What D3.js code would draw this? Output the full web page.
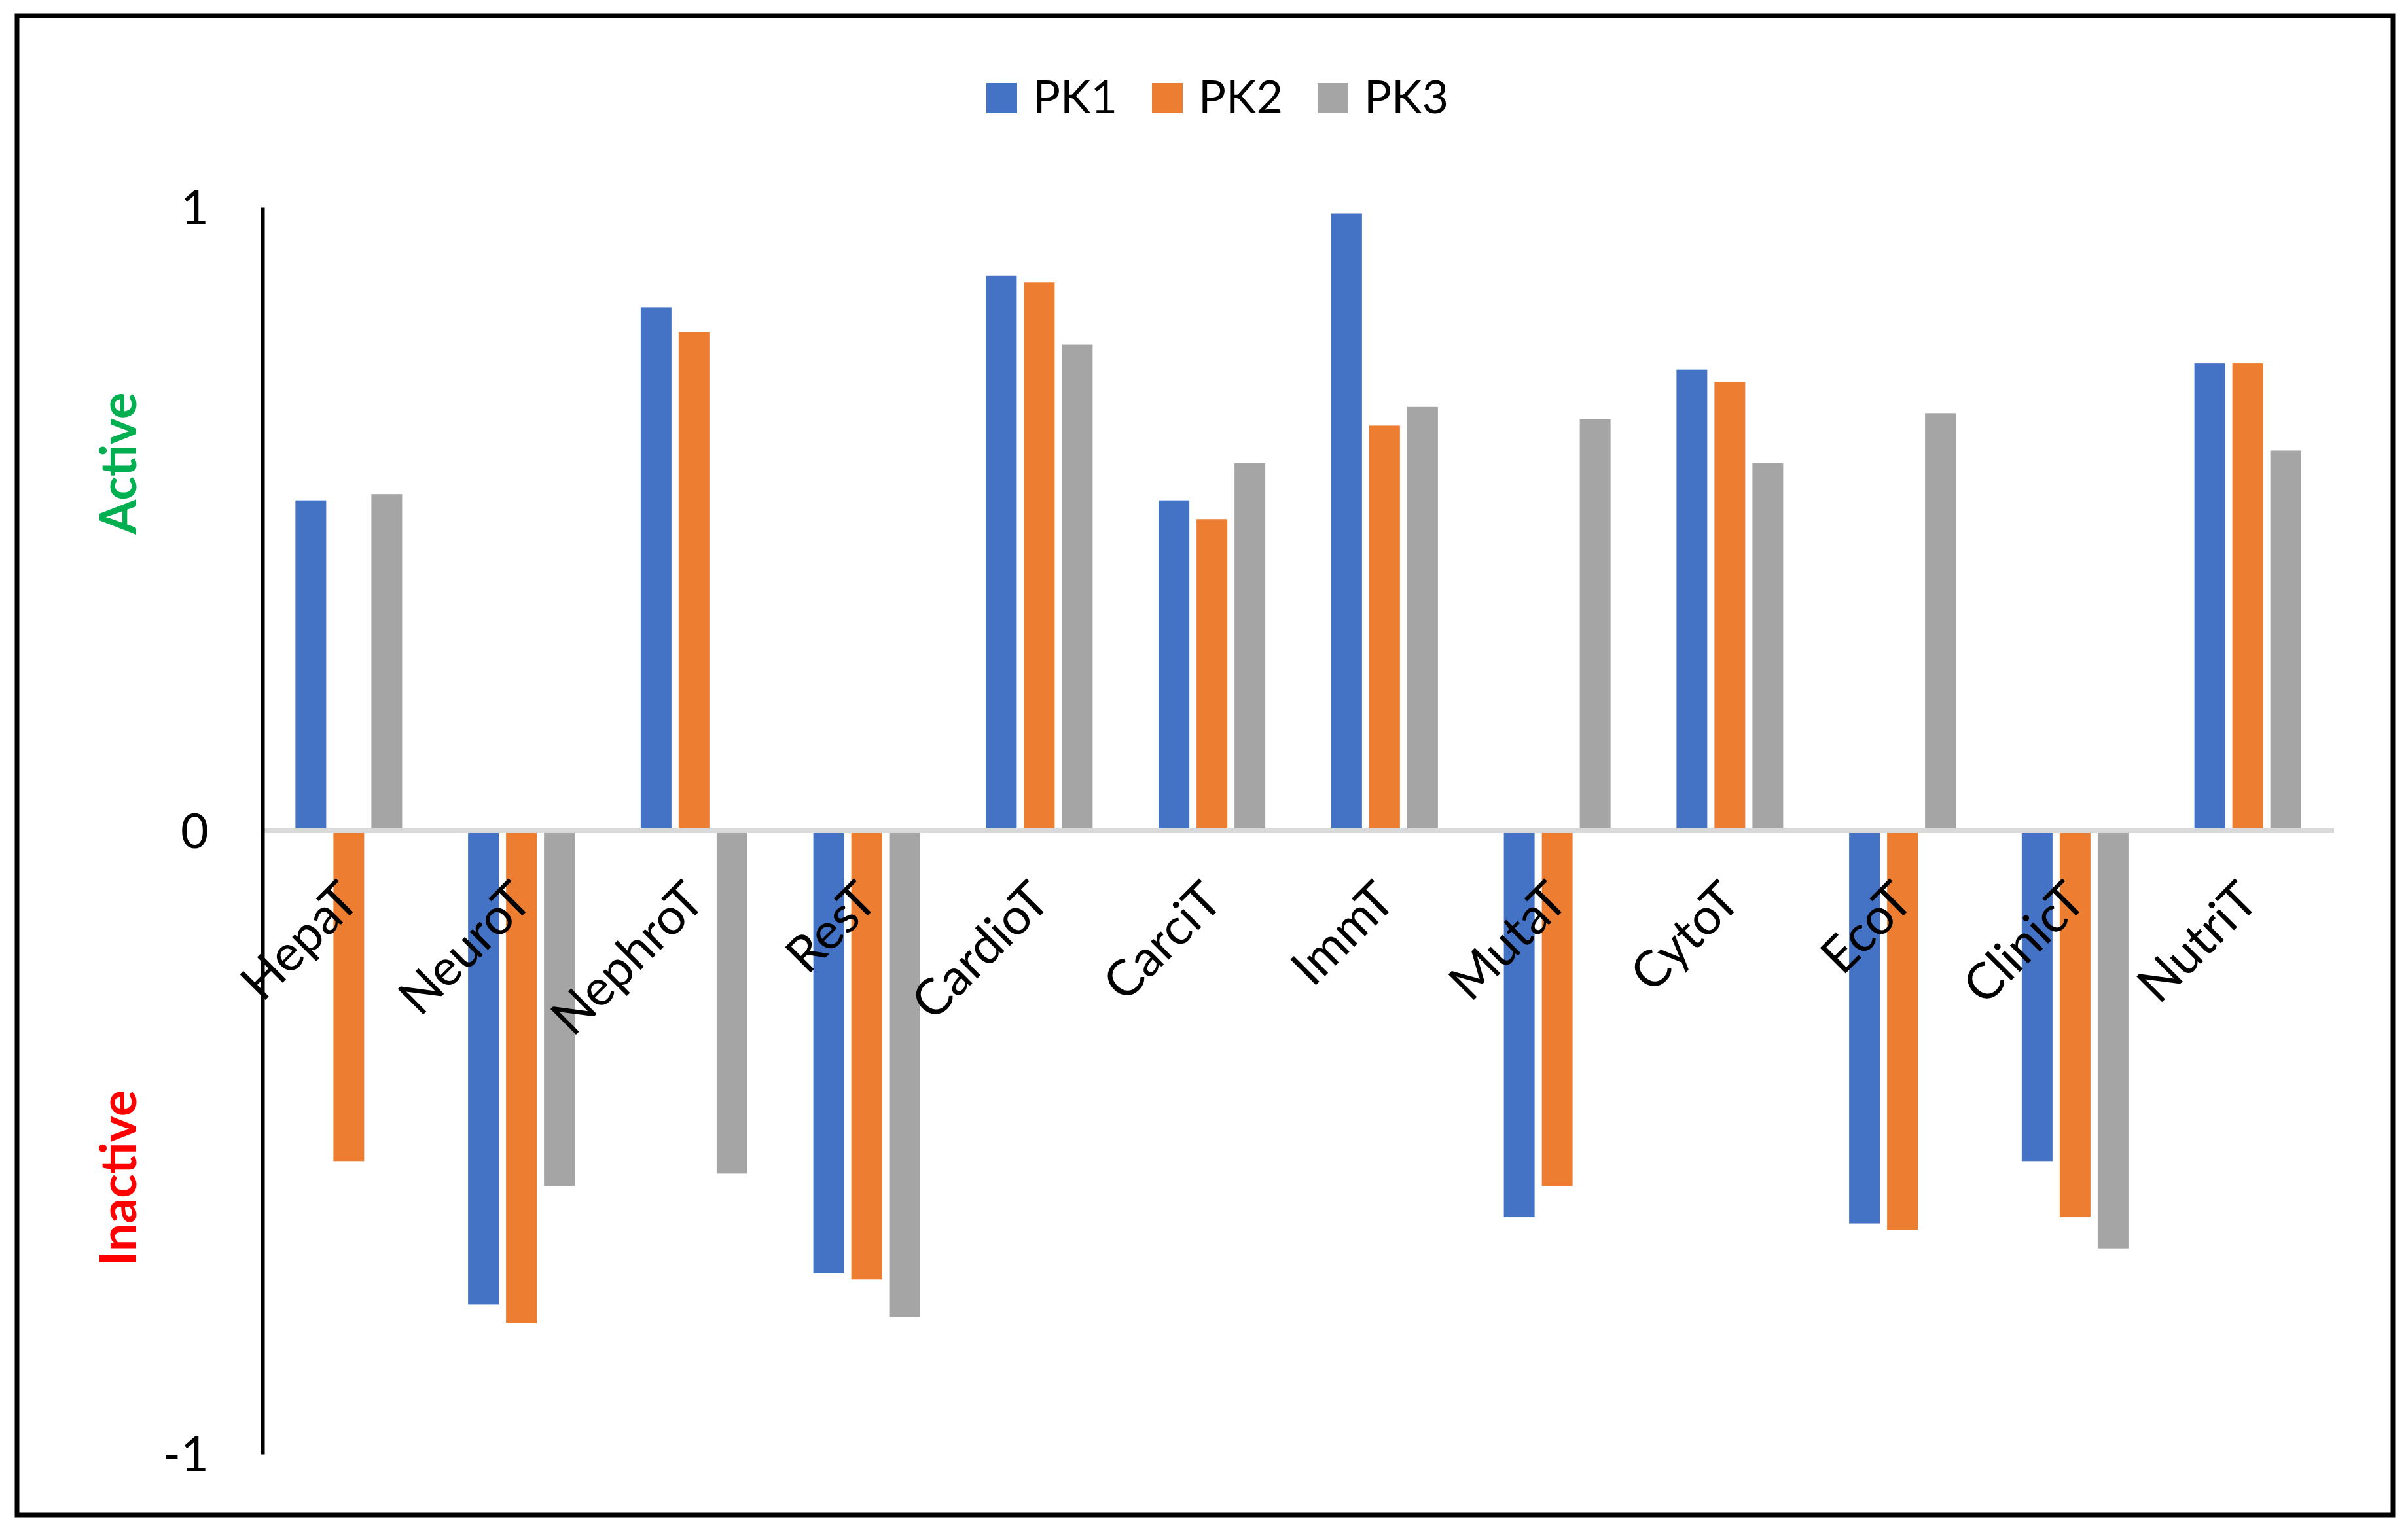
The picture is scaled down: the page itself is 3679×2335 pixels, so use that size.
<!DOCTYPE html>
<html>
<head>
<meta charset="utf-8">
<script src="https://cdn.jsdelivr.net/npm/d3@7"></script>
<style>
  html, body { margin: 0; padding: 0; background: #fff; }
  svg { display: block; font-family: Lato, "Open Sans", sans-serif; }
</style>
</head>
<body>
<div id="chart"></div>
<script>
const categories = ['HepaT', 'NeuroT', 'NephroT', 'ResT', 'CardioT', 'CarciT', 'ImmT', 'MutaT', 'CytoT', 'EcoT', 'ClinicT', 'NutriT'];
const seriesNames = ['PK1', 'PK2', 'PK3'];
const pk1 = [0.53, -0.76, 0.84, -0.71, 0.89, 0.53, 0.99, -0.62, 0.74, -0.63, -0.53, 0.75];
const pk2 = [-0.53, -0.79, 0.80, -0.72, 0.88, 0.50, 0.65, -0.57, 0.72, -0.64, -0.62, 0.75];
const pk3 = [0.54, -0.57, -0.55, -0.78, 0.78, 0.59, 0.68, 0.66, 0.59, 0.67, -0.67, 0.61];
const yTicks = [-1, 0, 1];
const colors = ['#4472c4', '#ed7d31', '#a5a5a5'];

const width = 3679, height = 2335;
const svg = d3.select('#chart').append('svg')
  .attr('width', width)
  .attr('height', height);

// chart border
svg.append('rect')
  .attr('x', 26).attr('y', 24)
  .attr('width', 3630).attr('height', 2291)
  .attr('fill', '#fff')
  .attr('stroke', '#000')
  .attr('stroke-width', 7);

const x0 = d3.scaleBand().domain(categories).range([401, 3566]).paddingInner(0.382).paddingOuter(0.191);
const x1 = d3.scaleBand().domain(seriesNames).range([0, x0.bandwidth()]).paddingInner(0.19);
const y = d3.scaleLinear().domain([-1, 1]).range([2222, 317]);

const rows = categories.map((c, i) => ({ cat: c, vals: [pk1[i], pk2[i], pk3[i]] }));

// bars
const groups = svg.append('g').selectAll('g')
  .data(rows)
  .join('g')
  .attr('transform', d => `translate(${x0(d.cat)},0)`);

groups.selectAll('rect')
  .data(d => d.vals.map((v, j) => ({ name: seriesNames[j], v, j })))
  .join('rect')
  .attr('x', d => x1(d.name))
  .attr('width', x1.bandwidth())
  .attr('y', d => y(Math.max(0, d.v)))
  .attr('height', d => Math.abs(y(d.v) - y(0)))
  .attr('fill', d => colors[d.j]);

// zero line
svg.append('line')
  .attr('x1', 401).attr('x2', 3566)
  .attr('y1', y(0)).attr('y2', y(0))
  .attr('stroke', '#d9d9d9')
  .attr('stroke-width', 7);

// y axis
const yAxis = d3.axisLeft(y).tickValues(yTicks).tickSize(0).tickPadding(82).tickFormat(d => String(d));
const ya = svg.append('g').attr('transform', 'translate(401,0)').call(yAxis);
ya.select('.domain').attr('stroke', '#000').attr('stroke-width', 6);
ya.selectAll('text')
  .attr('font-size', 74)
  .attr('font-family', 'Lato, sans-serif')
  .attr('fill', '#000')
  .attr('dy', '0.35em');

// category labels
svg.append('g').selectAll('text')
  .data(categories)
  .join('text')
  .attr('transform', d => `translate(${x0(d) + x0.bandwidth() / 2 + 20},${y(0) + 111}) rotate(-45)`)
  .attr('text-anchor', 'end')
  .attr('font-size', 77)
  .attr('fill', '#000')
  .text(d => d);

// side labels
svg.append('text')
  .attr('transform', 'translate(208,708) rotate(-90)')
  .attr('text-anchor', 'middle')
  .attr('font-size', 76)
  .attr('font-weight', 'bold')
  .attr('fill', '#00b050')
  .text('Active');

svg.append('text')
  .attr('transform', 'translate(208,1800) rotate(-90)')
  .attr('text-anchor', 'middle')
  .attr('font-size', 76)
  .attr('font-weight', 'bold')
  .attr('fill', '#ff0000')
  .text('Inactive');

// legend
const legend = svg.append('g').selectAll('g')
  .data(seriesNames)
  .join('g')
  .attr('transform', (d, i) => `translate(${1507 + i * 253},127)`);

legend.append('rect')
  .attr('width', 47).attr('height', 46)
  .attr('fill', (d, i) => colors[i]);

legend.append('text')
  .attr('x', 71).attr('y', 46)
  .attr('font-size', 70)
  .attr('fill', '#000')
  .text(d => d);
</script>
</body>
</html>
